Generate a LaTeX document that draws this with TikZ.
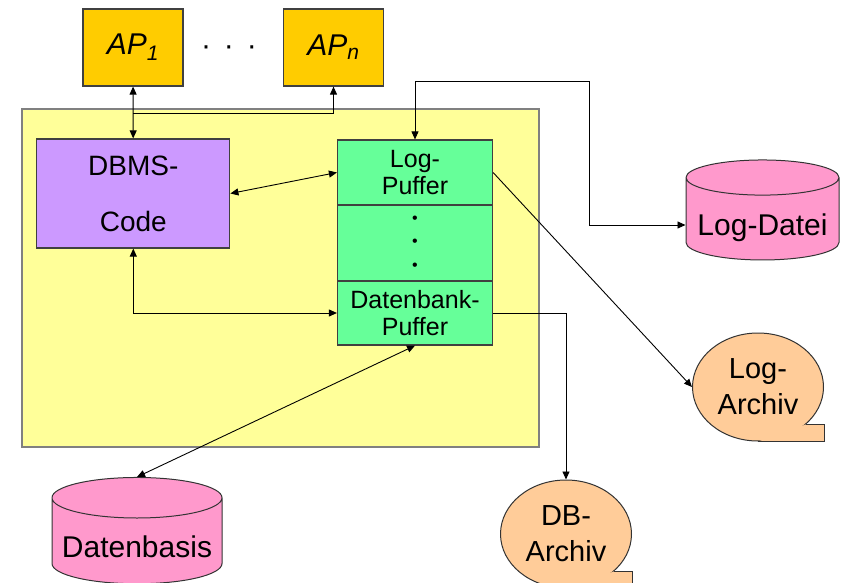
\documentclass[tikz,border=0pt]{standalone}
\usepackage{fontspec}
\setmainfont{Liberation Sans}
\usetikzlibrary{shapes.geometric,arrows.meta}
\definecolor{apgold}{HTML}{FFCC00}
\definecolor{sysyellow}{HTML}{FFFF99}
\definecolor{codepurple}{HTML}{CC99FF}
\definecolor{puffergreen}{HTML}{66FF99}
\definecolor{dbpink}{HTML}{FF99CC}
\definecolor{archorange}{HTML}{FFCC99}
\begin{document}
\begin{tikzpicture}[x=1pt,y=-1pt,
    box/.style={draw=black!75,line width=1.2pt,align=center,inner sep=0pt},
    apbox/.style={box,fill=apgold,minimum width=100pt,minimum height=77pt,
        font=\fontsize{30}{32}\selectfont\itshape},
    puffer/.style={box,fill=puffergreen,minimum width=155pt,
        font=\fontsize{25}{26.5}\selectfont},
    dbfile/.style={cylinder,shape border rotate=90,draw=black!80,line width=1pt,
        fill=dbpink,aspect=0.27,minimum width=153pt,minimum height=100pt,inner sep=0pt,
        text height=39pt,text depth=6pt,font=\fontsize{30}{34}\selectfont},
    archiv/.style={ellipse,draw=black!80,line width=1pt,fill=archorange,
        minimum width=131pt,minimum height=108pt,inner sep=0pt,align=center,
        font=\fontsize{29}{36}\selectfont},
    tip/.tip={Triangle[length=8pt,width=7pt]},
    link/.style={line width=0.9pt},
    both/.style={link,tip-tip},
    to/.style={link,-tip}]
    \clip (0,0) rectangle (843,583);
    % DB system frame
    \draw [fill=sysyellow,draw=black!50,line width=1.3pt] (22,109) rectangle (539,447);
    % application programs
    \node [apbox] (ap1) at (133,47.5) {AP\textsubscript{1}};
    \node [apbox] (apn) at (333.5,47.5) {AP\textsubscript{n}};
    \node [font=\fontsize{30}{32}\selectfont] (apdots) at (229,51) {·\hspace{13pt}·\hspace{13pt}·};
    % DBMS code and buffers
    \node [box,fill=codepurple,minimum width=193pt,minimum height=109pt,
        font=\fontsize{28}{56}\selectfont] (dbms) at (133.3,193.5) {DBMS-\\Code};
    \node [puffer,minimum height=65pt] (lp) at (415,172.5) {Log-\\Puffer};
    \node [puffer,minimum height=76pt,font=\fontsize{16}{23.5}\selectfont] (mid) at (415,243) {•\\•\\•};
    \node [puffer,minimum height=64pt] (dp) at (415,313) {Datenbank-\\Puffer};
    % files and archives
    \node [dbfile] (ld) at (762.5,219) {Log-Datei};
    \node [dbfile,minimum width=170pt,minimum height=99pt] (db) at (137,541) {Datenbasis};
    \node [archiv] (la) at (758,387) {Log-\\Archiv};
    \fill [archorange] (la.-38) -| (la.south -| la.east) -- (la.south) -- cycle;
    \draw [draw=black!80,line width=1pt] (la.-38) -| (la.south -| la.east) -- (la.south);
    \node [archiv] (da) at (566,534) {DB-\\Archiv};
    \fill [archorange] (da.-38) -| (da.south -| da.east) -- (da.south) -- cycle;
    \draw [draw=black!80,line width=1pt] (da.-38) -| (da.south -| da.east) -- (da.south);
    % connections
    \coordinate (apjoin) at (133,113);
    \coordinate (ldturn) at (589,81);
    \draw [both] (ap1) -- (dbms);
    \draw [to] (apjoin) -| (apn.south);
    \draw [both] (dbms.east) -- (lp.west);
    \draw [both] (dbms.south) |- (dp.west);
    \draw [both] (lp.north) |- (ldturn) |- ([yshift=-6pt]ld.west);
    \draw [to] (lp.east) -- (la.west);
    \draw [to] (dp.east) -| (da.north);
    \draw [both] (dp.south) -- (db.north);
\end{tikzpicture}
\end{document}
